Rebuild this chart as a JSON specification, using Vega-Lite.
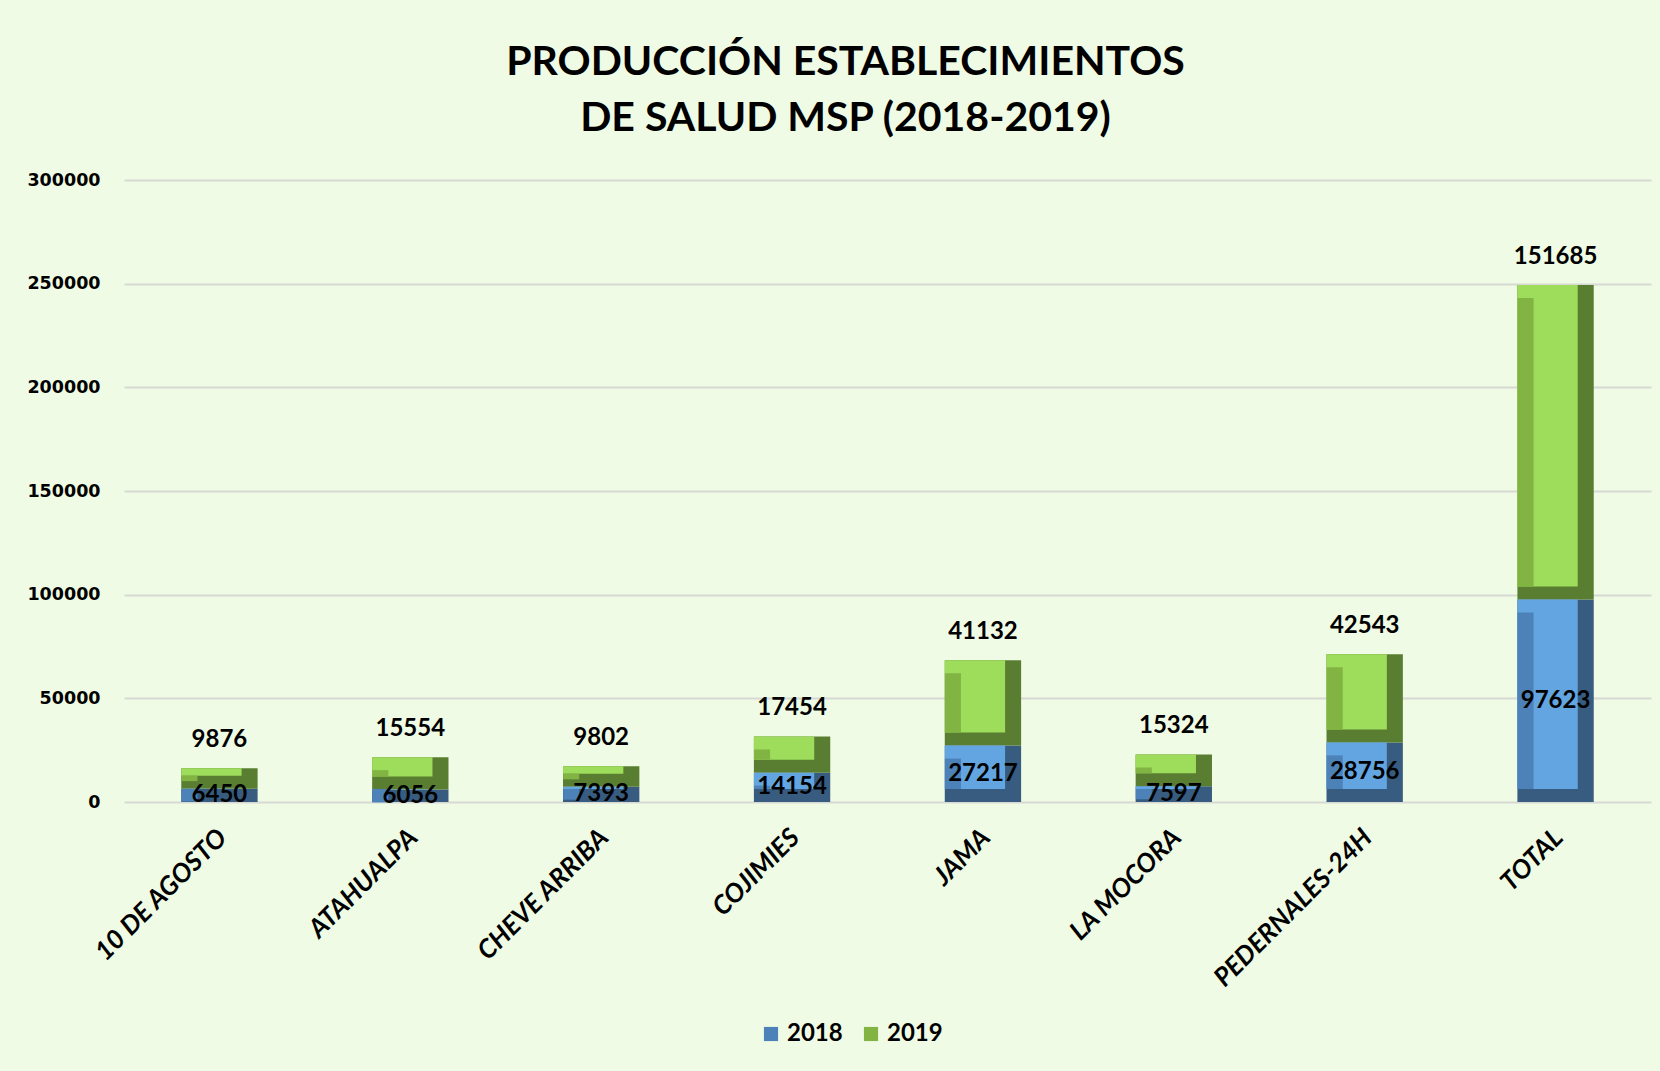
{
  "$schema": "https://vega.github.io/schema/vega-lite/v6.json",
  "width": 1527,
  "height": 622,
  "autosize": {"type": "none"},
  "padding": {"left": 124, "top": 180, "right": 9, "bottom": 269},
  "background": "#EFFBE4",
  "title": {
    "text": ["PRODUCCIÓN ESTABLECIMIENTOS", "DE SALUD MSP (2018-2019)"],
    "font": "Lato",
    "fontSize": 41,
    "fontWeight": "bold",
    "color": "#000000",
    "lineHeight": 56,
    "anchor": "middle",
    "frame": "group",
    "dx": -42,
    "offset": 31
  },
  "data": {
    "values": [
      {"establecimiento": "10 DE AGOSTO", "year": "2018", "valor": 6450},
      {"establecimiento": "10 DE AGOSTO", "year": "2019", "valor": 9876},
      {"establecimiento": "ATAHUALPA", "year": "2018", "valor": 6056},
      {"establecimiento": "ATAHUALPA", "year": "2019", "valor": 15554},
      {"establecimiento": "CHEVE ARRIBA", "year": "2018", "valor": 7393},
      {"establecimiento": "CHEVE ARRIBA", "year": "2019", "valor": 9802},
      {"establecimiento": "COJIMIES", "year": "2018", "valor": 14154},
      {"establecimiento": "COJIMIES", "year": "2019", "valor": 17454},
      {"establecimiento": "JAMA", "year": "2018", "valor": 27217},
      {"establecimiento": "JAMA", "year": "2019", "valor": 41132},
      {"establecimiento": "LA MOCORA", "year": "2018", "valor": 7597},
      {"establecimiento": "LA MOCORA", "year": "2019", "valor": 15324},
      {"establecimiento": "PEDERNALES-24H", "year": "2018", "valor": 28756},
      {"establecimiento": "PEDERNALES-24H", "year": "2019", "valor": 42543},
      {"establecimiento": "TOTAL", "year": "2018", "valor": 97623},
      {"establecimiento": "TOTAL", "year": "2019", "valor": 151685}
    ]
  },
  "encoding": {
    "x": {
      "field": "establecimiento",
      "type": "nominal",
      "sort": null,
      "title": null,
      "scale": {"paddingInner": 0.6, "paddingOuter": 0.3}
    }
  },
  "layer": [
    {
      "transform": [{"stack": "valor", "groupby": ["establecimiento"], "sort": [{"field": "year", "order": "ascending"}], "as": ["v0", "v1"]}],
      "mark": {"type": "bar"},
      "encoding": {
        "y": {
          "field": "v1", "type": "quantitative", "title": null,
          "scale": {"domain": [0, 300000], "nice": false},
          "axis": {"values": [0, 50000, 100000, 150000, 200000, 250000, 300000], "format": "d", "labelOverlap": false}
        },
        "y2": {"field": "v0"},
        "color": {
          "field": "year",
          "type": "nominal",
          "scale": {"domain": ["2018", "2019"], "range": ["#375C80", "#5A7E31"]},
          "legend": null
        }
      }
    },
    {
      "transform": [{"stack": "valor", "groupby": ["establecimiento"], "sort": [{"field": "year", "order": "ascending"}], "as": ["v0", "v1"]}],
      "mark": {"type": "bar", "width": {"band": 0.79}, "xOffset": -8, "y2Offset": -13},
      "encoding": {
        "y": {
          "field": "v1", "type": "quantitative", "title": null,
          "scale": {"domain": [0, 300000], "nice": false},
          "axis": {"values": [0, 50000, 100000, 150000, 200000, 250000, 300000], "format": "d", "labelOverlap": false}
        },
        "y2": {"field": "v0"},
        "color": {
          "field": "year",
          "type": "nominal",
          "scale": {"domain": ["2018", "2019"], "range": ["#63A5E1", "#9EDC5B"]},
          "legend": null
        }
      }
    },
    {
      "transform": [{"stack": "valor", "groupby": ["establecimiento"], "sort": [{"field": "year", "order": "ascending"}], "as": ["v0", "v1"]}],
      "mark": {"type": "bar", "width": {"band": 0.21}, "xOffset": -30, "yOffset": 13, "y2Offset": -13},
      "encoding": {
        "y": {
          "field": "v1", "type": "quantitative", "title": null,
          "scale": {"domain": [0, 300000], "nice": false},
          "axis": {"values": [0, 50000, 100000, 150000, 200000, 250000, 300000], "format": "d", "labelOverlap": false}
        },
        "y2": {"field": "v0"},
        "color": {
          "field": "year",
          "type": "nominal",
          "scale": {"domain": ["2018", "2019"], "range": ["#4D82B8", "#82B444"]},
          "legend": {
            "title": null,
            "orient": "none",
            "legendX": 635,
            "legendY": 842,
            "direction": "horizontal",
            "symbolType": "square",
            "symbolSize": 200,
            "labelFont": "Lato",
            "labelFontWeight": "bold",
            "labelFontSize": 24,
            "labelColor": "#000000",
            "labelOffset": 4,
            "columnPadding": 16
          }
        }
      }
    },
    {
      "mark": {"type": "text", "font": "Lato", "fontWeight": "bold", "fontSize": 24, "color": "#000000", "baseline": "middle"},
      "encoding": {
        "y": {
          "field": "valor", "type": "quantitative", "stack": "zero", "bandPosition": 0.5, "title": null,
          "scale": {"domain": [0, 300000], "nice": false},
          "axis": {"values": [0, 50000, 100000, 150000, 200000, 250000, 300000], "format": "d", "labelOverlap": false}
        },
        "order": {"field": "year", "sort": "ascending"},
        "detail": {"field": "year"},
        "text": {"field": "valor", "type": "quantitative", "format": "d"},
        "opacity": {"condition": {"test": "datum.year === '2018'", "value": 1}, "value": 0}
      }
    },
    {
      "mark": {"type": "text", "font": "Lato", "fontWeight": "bold", "fontSize": 24, "color": "#000000", "baseline": "middle", "dy": -28},
      "encoding": {
        "y": {
          "field": "valor", "type": "quantitative", "stack": "zero", "title": null,
          "scale": {"domain": [0, 300000], "nice": false},
          "axis": {"values": [0, 50000, 100000, 150000, 200000, 250000, 300000], "format": "d", "labelOverlap": false}
        },
        "order": {"field": "year", "sort": "ascending"},
        "detail": {"field": "year"},
        "text": {"field": "valor", "type": "quantitative", "format": "d"},
        "opacity": {"condition": {"test": "datum.year === '2019'", "value": 1}, "value": 0}
      }
    }
  ],
  "resolve": {"scale": {"color": "independent"}},
  "config": {
    "view": {"stroke": null},
    "axisY": {
      "title": null,
      "labelFont": "DejaVu Sans",
      "labelFontWeight": "bold",
      "labelFontSize": 17.5,
      "labelColor": "#000000",
      "labelPadding": 24,
      "ticks": false,
      "domain": false,
      "grid": true,
      "gridColor": "#D7D9D4",
      "gridWidth": 2
    },
    "axisX": {
      "title": null,
      "labelAngle": -45,
      "labelFont": "Lato",
      "labelFontWeight": "bold",
      "labelFontStyle": "italic",
      "labelFontSize": 26,
      "labelColor": "#000000",
      "labelPadding": 22,
      "labelOffset": -6,
      "labelLimit": 0,
      "ticks": false,
      "domain": false,
      "grid": false
    }
  }
}
